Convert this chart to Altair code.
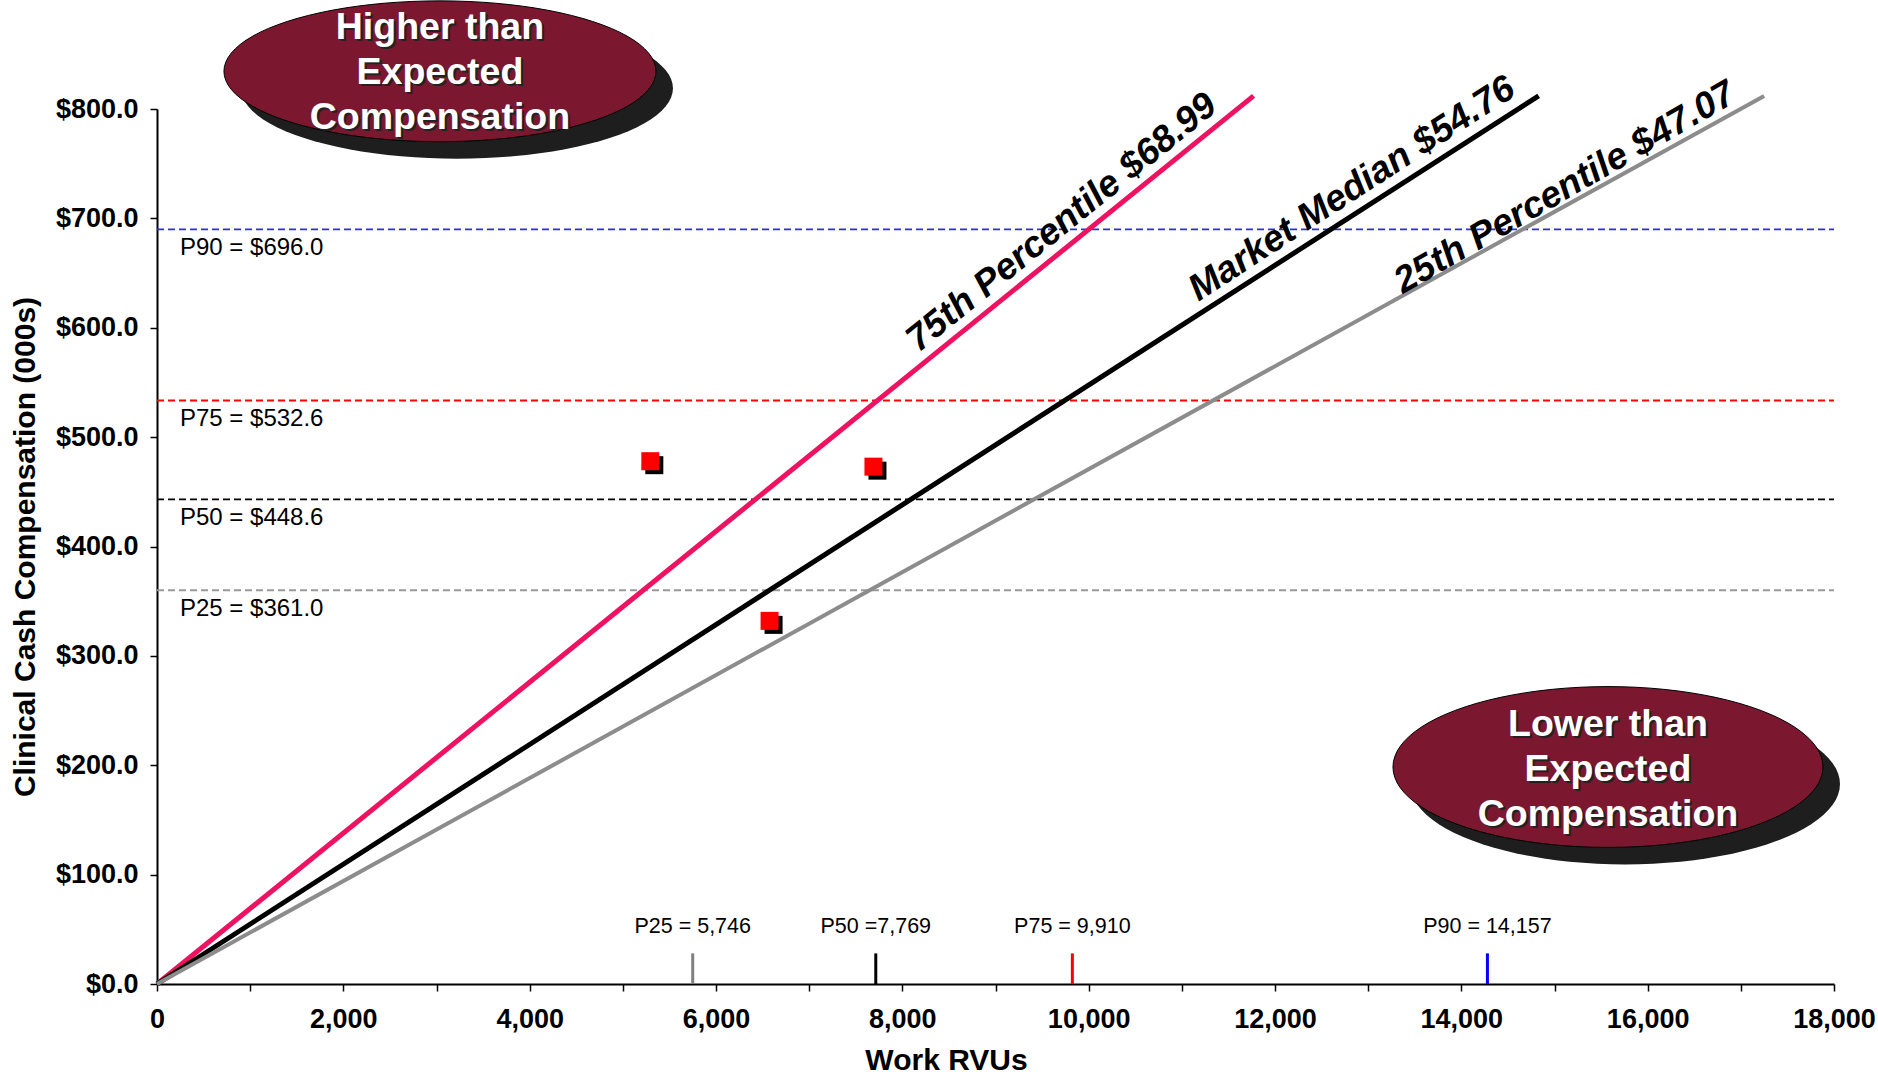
import altair as alt
import pandas as pd
import numpy as np

FONT = "Liberation Sans"

# Benchmark rate lines ($ per wRVU), drawn from the origin to the end wRVU
rate_names = ["75th Percentile $68.99", "Market Median $54.76", "25th Percentile $47.07"]
rate_values = [68.99, 54.76, 47.07]
rate_line_end_rvus = [11770, 14830, 17250]
rate_label_x = [9713, 12826, 15112]
rate_label_y = [696, 727, 728]

# Compensation percentiles (horizontal dashed lines, $000s)
comp_labels = ["P90 = $696.0", "P75 = $532.6", "P50 = $448.6", "P25 = $361.0"]
comp_levels = [690, 533.5, 443, 360]

# wRVU percentiles (short ticks on the x axis)
rvu_labels = ["P25 = 5,746", "P50 =7,769", "P75 = 9,910", "P90 = 14,157"]
rvu_positions = [5750, 7715, 9825, 14280]

# Providers
provider_rvus = [5295, 7690, 6575]
provider_comp = [478, 473, 332]

# Callout texts
callout_high = ["Higher than", "Expected", "Compensation"]
callout_low = ["Lower than", "Expected", "Compensation"]

# ---- styles ----
rate_colors = ["#EE1260", "#000000", "#8C8C8C"]
rate_widths = [5, 5, 4]
rate_angles = [321, 327, 330]
comp_colors = ["#2F2FD6", "#FF0000", "#000000", "#999999"]
rvu_colors = ["#808080", "#000000", "#FF0000", "#0000FF"]

xs = alt.Scale(domain=[0, 18000], nice=False, zero=True)
ys = alt.Scale(domain=[0, 800], nice=False, zero=True)

x_axis = alt.Axis(
    values=list(range(0, 18001, 1000)),
    labelExpr="datum.value % 2000 == 0 ? format(datum.value, ',') : ''",
    title="Work RVUs", titleFont=FONT, titleFontSize=30, titleFontWeight="bold", titleColor="black",
    titleX=789, titleAlign="center", titlePadding=13,
    labelFont=FONT, labelFontSize=27, labelFontWeight="bold", labelColor="black",
    labelPadding=15, labelFlush=False, labelOverlap=False,
    domainColor="black", domainWidth=2, tickColor="black", tickWidth=1.5, tickSize=7, grid=False,
)
y_axis = alt.Axis(
    values=list(range(0, 801, 100)),
    labelExpr="'$' + format(datum.value, '.1f')",
    title="Clinical Cash Compensation (000s)", titleFont=FONT, titleFontSize=30,
    titleFontWeight="bold", titleColor="black", titlePadding=15,
    labelFont=FONT, labelFontSize=27, labelFontWeight="bold", labelColor="black",
    labelPadding=12, labelFlush=False, labelOverlap=False,
    domainColor="black", domainWidth=2, tickColor="black", tickWidth=1.5, tickSize=7, grid=False,
)

layers = []

# Dashed compensation percentile lines (carry the axes)
comp_df = pd.DataFrame({"label": comp_labels, "level": comp_levels, "color": comp_colors})
comp_rules = alt.Chart(comp_df).mark_rule(strokeDash=[7, 4], strokeWidth=1.8).encode(
    x=alt.X(datum=0, scale=xs, axis=x_axis, type="quantitative"),
    x2=alt.X2(datum=18000),
    y=alt.Y("level:Q", scale=ys, axis=y_axis),
    color=alt.Color("color:N", scale=None),
)
comp_text = alt.Chart(comp_df).mark_text(
    align="left", baseline="middle", dy=19, font=FONT, fontSize=24, color="black"
).encode(
    x=alt.value(23),
    y=alt.Y("level:Q", scale=ys),
    text="label:N",
)
layers += [comp_rules, comp_text]

# Rate lines
for name, rate, end, col, w in zip(rate_names, rate_values, rate_line_end_rvus, rate_colors, rate_widths):
    df = pd.DataFrame({"rvu": [0, end], "comp": [0, rate * end / 1000.0]})
    layers.append(
        alt.Chart(df).mark_line(color=col, strokeWidth=w, clip=False).encode(
            x=alt.X("rvu:Q", scale=xs), y=alt.Y("comp:Q", scale=ys)
        )
    )

rate_df = pd.DataFrame({"name": rate_names, "lx": rate_label_x, "ly": rate_label_y})
for i in range(len(rate_names)):
    layers.append(
        alt.Chart(rate_df.iloc[[i]]).mark_text(
            font=FONT, fontSize=37, fontWeight="bold", fontStyle="italic", color="black",
            angle=rate_angles[i], align="center", baseline="middle",
        ).encode(x=alt.X("lx:Q", scale=xs), y=alt.Y("ly:Q", scale=ys), text="name:N")
    )

# wRVU percentile ticks on the x axis
rvu_df = pd.DataFrame({"label": rvu_labels, "pos": rvu_positions, "color": rvu_colors})
rvu_ticks = alt.Chart(rvu_df).mark_rule(strokeWidth=3).encode(
    x=alt.X("pos:Q", scale=xs),
    y=alt.Y(datum=0, scale=ys, type="quantitative"),
    y2=alt.Y2(datum=28),
    color=alt.Color("color:N", scale=None),
)
rvu_text = alt.Chart(rvu_df).mark_text(
    font=FONT, fontSize=21.5, color="black", align="center", baseline="middle", dy=-26
).encode(
    x=alt.X("pos:Q", scale=xs),
    y=alt.Y(datum=28, scale=ys, type="quantitative"),
    text="label:N",
)
layers += [rvu_ticks, rvu_text]

# Provider points with drop shadow
prov_df = pd.DataFrame({"rvu": provider_rvus, "comp": provider_comp})
shadow = alt.Chart(prov_df).mark_square(size=324, color="black", opacity=1, xOffset=4, yOffset=4).encode(
    x=alt.X("rvu:Q", scale=xs), y=alt.Y("comp:Q", scale=ys)
)
pts = alt.Chart(prov_df).mark_square(size=324, color="#FF0000", opacity=1).encode(
    x=alt.X("rvu:Q", scale=xs), y=alt.Y("comp:Q", scale=ys)
)
layers += [shadow, pts]


# Callout ellipses
def ellipse_path(ry):
    t = np.linspace(0, 2 * np.pi, 97)
    coords = [f"{np.cos(a):.4f} {ry * np.sin(a):.4f}" for a in t]
    return "M " + " L ".join(coords) + " Z"


def callout(cx, cy, width, ry, lines, text_dy):
    path = ellipse_path(ry)
    base = alt.Chart(pd.DataFrame({"a": [0]}))
    enc = dict(
        x=alt.X(datum=cx, scale=xs, type="quantitative"),
        y=alt.Y(datum=cy, scale=ys, type="quantitative"),
    )
    sh = base.mark_point(shape=path, size=width ** 2, filled=True, fill="#1E1E1E", opacity=1,
                         strokeWidth=0, xOffset=17, yOffset=17).encode(**enc)
    el = base.mark_point(shape=path, size=width ** 2, filled=True, fill="#7B1830", opacity=1,
                         stroke="black", strokeWidth=1).encode(**enc)
    tsh = base.mark_text(text=lines, font=FONT, fontSize=37.5, fontWeight="bold", color="#222222",
                         lineHeight=45, align="center", baseline="middle", dx=2, dy=text_dy + 2).encode(**enc)
    tx = base.mark_text(text=lines, font=FONT, fontSize=37.5, fontWeight="bold", color="white",
                        lineHeight=45, align="center", baseline="middle", dy=text_dy).encode(**enc)
    return [sh, el, tsh, tx]


layers += callout(3037, 834.5, 432, 0.326, callout_high, -43)
layers += callout(15574, 198.4, 430, 0.374, callout_low, -42)

chart = alt.layer(*layers).properties(
    width=1677, height=875,
    padding={"left": 157, "top": 109, "right": 44, "bottom": 93},
    autosize=alt.AutoSizeParams(type="none"),
    background="white",
).configure_view(stroke=None)

chart.save("out.html", embed_options={"renderer": "svg", "actions": False})
